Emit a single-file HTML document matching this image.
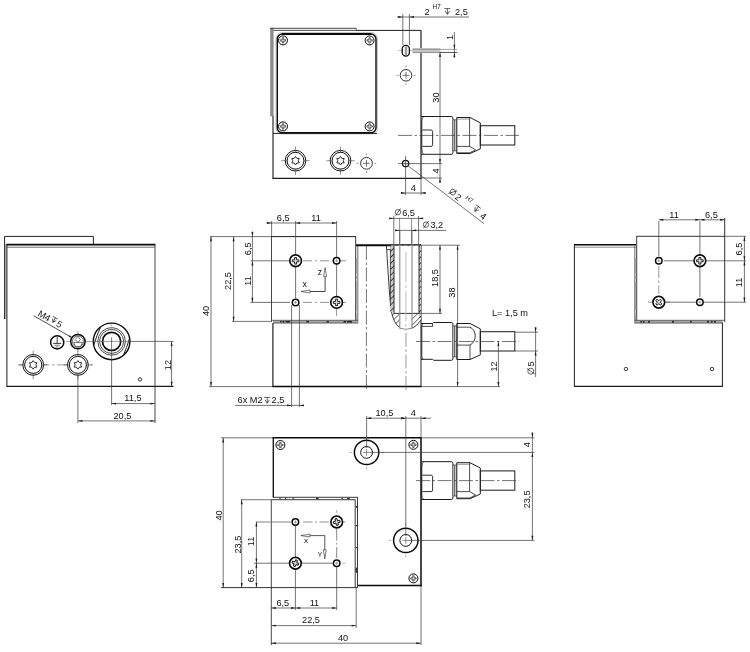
<!DOCTYPE html>
<html><head><meta charset="utf-8"><title>drawing</title>
<style>
html,body{margin:0;padding:0;background:#fff;}
body{width:750px;height:652px;overflow:hidden;}
svg{display:block;font-family:"Liberation Sans",sans-serif;filter:grayscale(1);}
</style></head><body>
<svg width="750" height="652" viewBox="0 0 750 652">
<defs>
<pattern id="hatch" width="4.2" height="4.2" patternUnits="userSpaceOnUse" patternTransform="rotate(-45)">
<rect width="4.2" height="4.2" fill="#fff"/><line x1="0" y1="0" x2="4.2" y2="0" stroke="#333" stroke-width="1.2"/>
</pattern>
<pattern id="hatch2" width="4.2" height="4.2" patternUnits="userSpaceOnUse" patternTransform="rotate(-45)">
<rect width="4.2" height="4.2" fill="#ccc"/><line x1="0" y1="0" x2="4.2" y2="0" stroke="#222" stroke-width="1.6"/>
</pattern>
</defs>
<rect width="750" height="652" fill="#fff"/>

<g id="top">
<rect x="270.2" y="27.9" width="3.4" height="88.4" fill="#8c8c8c"/>
<line x1="270.2" y1="28.3" x2="356.2" y2="28.3" stroke="#333" stroke-width="0.9"/>
<line x1="356.2" y1="28.3" x2="356.2" y2="30.2" stroke="#444" stroke-width="0.8"/>
<line x1="356" y1="30.4" x2="421" y2="30.4" stroke="#1c1c1c" stroke-width="1"/>
<line x1="273.4" y1="30.4" x2="356" y2="30.4" stroke="#3a3a3a" stroke-width="0.9"/>
<line x1="421" y1="30.3" x2="421" y2="178.3" stroke="#1c1c1c" stroke-width="1.2"/>
<line x1="273" y1="116" x2="273" y2="178.3" stroke="#4a4a4a" stroke-width="1.4"/>
<line x1="272.4" y1="178.3" x2="421.6" y2="178.3" stroke="#1c1c1c" stroke-width="1.2"/>
<rect x="276" y="32.6" width="101.4" height="101.4" rx="6" fill="none" stroke="#888" stroke-width="0.5"/>
<rect x="277.3" y="34" width="98.7" height="98.8" rx="5" fill="none" stroke="#0a0a0a" stroke-width="1.4"/>
<line x1="282" y1="34" x2="371.4" y2="34" stroke="#0a0a0a" stroke-width="2"/>
<line x1="273" y1="133.4" x2="377" y2="133.4" stroke="#1c1c1c" stroke-width="1"/>
<circle cx="283" cy="40.4" r="4.5" fill="#fff" stroke="#0a0a0a" stroke-width="1"/>
<path d="M282.3,37.7 L283.7,37.7 L283.7,39.7 L285.7,39.7 L285.7,41.1 L283.7,41.1 L283.7,43.1 L282.3,43.1 L282.3,41.1 L280.3,41.1 L280.3,39.7 L282.3,39.7 Z" fill="#ddd" stroke="#111" stroke-width="0.6" />
<circle cx="369.6" cy="40.4" r="4.5" fill="#fff" stroke="#0a0a0a" stroke-width="1"/>
<path d="M368.9,37.7 L370.3,37.7 L370.3,39.7 L372.3,39.7 L372.3,41.1 L370.3,41.1 L370.3,43.1 L368.9,43.1 L368.9,41.1 L366.9,41.1 L366.9,39.7 L368.9,39.7 Z" fill="#ddd" stroke="#111" stroke-width="0.6" />
<circle cx="283" cy="126.4" r="4.5" fill="#fff" stroke="#0a0a0a" stroke-width="1"/>
<path d="M282.3,123.7 L283.7,123.7 L283.7,125.7 L285.7,125.7 L285.7,127.1 L283.7,127.1 L283.7,129.1 L282.3,129.1 L282.3,127.1 L280.3,127.1 L280.3,125.7 L282.3,125.7 Z" fill="#ddd" stroke="#111" stroke-width="0.6" />
<circle cx="369.6" cy="126.4" r="4.5" fill="#fff" stroke="#0a0a0a" stroke-width="1"/>
<path d="M368.9,123.7 L370.3,123.7 L370.3,125.7 L372.3,125.7 L372.3,127.1 L370.3,127.1 L370.3,129.1 L368.9,129.1 L368.9,127.1 L366.9,127.1 L366.9,125.7 L368.9,125.7 Z" fill="#ddd" stroke="#111" stroke-width="0.6" />
<circle cx="295.5" cy="160.7" r="10.3" fill="#fff" stroke="#111" stroke-width="1"/>
<circle cx="295.5" cy="160.7" r="8.45" fill="none" stroke="#111" stroke-width="1"/>
<path d="M295.5,156.4 L296.85,158.36 L299.22,158.55 L298.2,160.7 L299.22,162.85 L296.85,163.04 L295.5,165 L294.15,163.04 L291.78,162.85 L292.8,160.7 L291.78,158.55 L294.15,158.36 Z" fill="none" stroke="#1a1a1a" stroke-width="0.9" stroke-linejoin="round"/>
<line x1="303.3" y1="160.7" x2="309.6" y2="160.7" stroke="#444" stroke-width="0.6"/>
<line x1="287.7" y1="160.7" x2="281.4" y2="160.7" stroke="#444" stroke-width="0.6"/>
<line x1="295.5" y1="168.5" x2="295.5" y2="174.8" stroke="#444" stroke-width="0.6"/>
<line x1="295.5" y1="152.9" x2="295.5" y2="146.6" stroke="#444" stroke-width="0.6"/>
<circle cx="340.5" cy="160.7" r="10.3" fill="#fff" stroke="#111" stroke-width="1"/>
<circle cx="340.5" cy="160.7" r="8.45" fill="none" stroke="#111" stroke-width="1"/>
<path d="M340.5,156.4 L341.85,158.36 L344.22,158.55 L343.2,160.7 L344.22,162.85 L341.85,163.04 L340.5,165 L339.15,163.04 L336.78,162.85 L337.8,160.7 L336.78,158.55 L339.15,158.36 Z" fill="none" stroke="#1a1a1a" stroke-width="0.9" stroke-linejoin="round"/>
<line x1="348.3" y1="160.7" x2="354.6" y2="160.7" stroke="#444" stroke-width="0.6"/>
<line x1="332.7" y1="160.7" x2="326.4" y2="160.7" stroke="#444" stroke-width="0.6"/>
<line x1="340.5" y1="168.5" x2="340.5" y2="174.8" stroke="#444" stroke-width="0.6"/>
<line x1="340.5" y1="152.9" x2="340.5" y2="146.6" stroke="#444" stroke-width="0.6"/>
<circle cx="366.5" cy="163.3" r="5.9" fill="#fff" stroke="#1c1c1c" stroke-width="0.9"/>
<line x1="363.1" y1="163.3" x2="369.9" y2="163.3" stroke="#3a3a3a" stroke-width="0.7"/>
<line x1="366.5" y1="159.9" x2="366.5" y2="166.7" stroke="#3a3a3a" stroke-width="0.7"/>
<line x1="374.2" y1="163.3" x2="376.4" y2="163.3" stroke="#666" stroke-width="0.6"/>
<line x1="358.8" y1="163.3" x2="356.6" y2="163.3" stroke="#666" stroke-width="0.6"/>
<line x1="366.5" y1="171" x2="366.5" y2="173.2" stroke="#666" stroke-width="0.6"/>
<line x1="366.5" y1="155.6" x2="366.5" y2="153.4" stroke="#666" stroke-width="0.6"/>
<rect x="412.6" y="48.1" width="27.8" height="5.0" fill="#c4c4c4"/><rect x="412.6" y="48.9" width="44.4" height="0.8" fill="#8a8a8a"/><rect x="412.6" y="52.0" width="44.4" height="0.8" fill="#8a8a8a"/>
<line x1="398" y1="50.6" x2="413" y2="50.6" stroke="#999" stroke-width="0.6"/>
<rect x="402.2" y="45.3" width="7.2" height="10.8" rx="3.6" fill="#fff" stroke="#0a0a0a" stroke-width="1.3"/>
<rect x="404.8" y="46.5" width="2.4" height="8.6" fill="#999"/>
<circle cx="406" cy="75.3" r="5.8" fill="#fff" stroke="#1c1c1c" stroke-width="0.9"/>
<line x1="402.6" y1="75.3" x2="409.4" y2="75.3" stroke="#3a3a3a" stroke-width="0.7"/>
<line x1="406" y1="71.9" x2="406" y2="78.7" stroke="#3a3a3a" stroke-width="0.7"/>
<line x1="413.6" y1="75.3" x2="415.8" y2="75.3" stroke="#666" stroke-width="0.6"/>
<line x1="398.4" y1="75.3" x2="396.2" y2="75.3" stroke="#666" stroke-width="0.6"/>
<line x1="406" y1="82.9" x2="406" y2="85.1" stroke="#666" stroke-width="0.6"/>
<line x1="406" y1="67.7" x2="406" y2="65.5" stroke="#666" stroke-width="0.6"/>
<circle cx="405.6" cy="163.6" r="3.2" fill="#fff" stroke="#0a0a0a" stroke-width="1.2"/>
<line x1="403.4" y1="163.2" x2="407.6" y2="164.2" stroke="#555" stroke-width="0.5"/>
<line x1="398" y1="163.6" x2="442" y2="163.6" stroke="#3a3a3a" stroke-width="0.7"/>
<line x1="405.6" y1="156" x2="405.6" y2="195" stroke="#3a3a3a" stroke-width="0.7"/>
<line x1="421" y1="178" x2="442" y2="178" stroke="#3a3a3a" stroke-width="0.7"/>
<line x1="421" y1="178" x2="421" y2="195" stroke="#3a3a3a" stroke-width="0.7"/>
<line x1="402.8" y1="14" x2="402.8" y2="45" stroke="#3a3a3a" stroke-width="0.7"/>
<line x1="409.4" y1="14" x2="409.4" y2="45" stroke="#3a3a3a" stroke-width="0.7"/>
<line x1="397" y1="17" x2="469" y2="17" stroke="#3a3a3a" stroke-width="0.7"/>
<polygon points="402.8,17 398.2,17.95 398.2,16.05" fill="#1c1c1c"/>
<polygon points="409.4,17 414,16.05 414,17.95" fill="#1c1c1c"/>
<text x="424.5" y="15" font-size="9.2" text-anchor="start" fill="#111" >2</text>
<text x="432.6" y="8.8" font-size="6.3" text-anchor="start" fill="#111" >H7</text>
<line x1="444.4" y1="8.6" x2="450.4" y2="8.6" stroke="#222" stroke-width="0.7"/>
<line x1="447.4" y1="8.6" x2="447.4" y2="14.3" stroke="#222" stroke-width="0.7"/>
<path d="M445.15,11 L447.4,14.45 L449.65,11" fill="none" stroke="#222" stroke-width="0.7" />
<text x="455" y="15" font-size="9.2" text-anchor="start" fill="#111" >2,5</text>
<line x1="454.4" y1="32" x2="454.4" y2="58" stroke="#3a3a3a" stroke-width="0.7"/>
<polygon points="454.4,49.3 453.45,44.7 455.35,44.7" fill="#1c1c1c"/>
<polygon points="454.4,52.4 455.35,57 453.45,57" fill="#1c1c1c"/>
<text x="452.8" y="37.4" font-size="9.2" text-anchor="middle" fill="#111" transform="rotate(-90 452.8 37.4)" >1</text>
<line x1="440" y1="52.4" x2="457.5" y2="52.4" stroke="#3a3a3a" stroke-width="0.7"/>
<line x1="440" y1="52.4" x2="440" y2="163.6" stroke="#3a3a3a" stroke-width="0.7"/>
<polygon points="440,52.4 440.95,57 439.05,57" fill="#1c1c1c"/>
<polygon points="440,163.6 439.05,159 440.95,159" fill="#1c1c1c"/>
<text x="439.2" y="97.6" font-size="9.2" text-anchor="middle" fill="#111" transform="rotate(-90 439.2 97.6)" >30</text>
<line x1="440" y1="163.6" x2="440" y2="183" stroke="#3a3a3a" stroke-width="0.7"/>
<polygon points="440,178 440.95,182.6 439.05,182.6" fill="#1c1c1c"/>
<text x="438.6" y="171" font-size="9.2" text-anchor="middle" fill="#111" transform="rotate(-90 438.6 171)" >4</text>
<line x1="401" y1="193" x2="426" y2="193" stroke="#3a3a3a" stroke-width="0.7"/>
<polygon points="405.6,193 401,193.95 401,192.05" fill="#1c1c1c"/>
<polygon points="421,193 425.6,192.05 425.6,193.95" fill="#1c1c1c"/>
<text x="413.4" y="191" font-size="9.2" text-anchor="middle" fill="#111" >4</text>
<line x1="407.8" y1="165.6" x2="484" y2="223.6" stroke="#3a3a3a" stroke-width="0.7"/>
<g transform="translate(447.2 192.8) rotate(37.4)">
<circle cx="4.1" cy="-4" r="2.8" fill="none" stroke="#111" stroke-width="0.65"/>
<line x1="1.44" y1="-0.22" x2="6.76" y2="-7.78" stroke="#111" stroke-width="0.65"/>
<text x="9" y="0" font-size="9.2" text-anchor="start" fill="#111" >2</text>
<text x="17.6" y="-6.2" font-size="6.3" text-anchor="start" fill="#111" >H7</text>
<line x1="30.2" y1="-8" x2="36.2" y2="-8" stroke="#222" stroke-width="0.7"/>
<line x1="33.2" y1="-8" x2="33.2" y2="-2.3" stroke="#222" stroke-width="0.7"/>
<path d="M30.95,-5.6 L33.2,-2.15 L35.45,-5.6" fill="none" stroke="#222" stroke-width="0.7" />
<text x="40.2" y="0" font-size="9.2" text-anchor="start" fill="#111" >4</text>
</g>
<path d="M421,116.5 L451.4,116.5 Q452.9,116.5 452.9,118.1 L452.9,152.7 Q452.9,154.3 451.4,154.3 L421,154.3" fill="none" stroke="#1c1c1c" stroke-width="1" />
<path d="M423.4,117.1 Q421.8,117.9 421.8,121 L421.8,149.8 Q421.8,152.9 423.4,153.7" fill="none" stroke="#1c1c1c" stroke-width="0.9" />
<rect x="453.2" y="119.9" width="3.6" height="31" fill="#c8c8c8"/>
<line x1="454.4" y1="119.8" x2="454.4" y2="150.8" stroke="#555" stroke-width="0.9"/>
<line x1="453.2" y1="119.8" x2="456.8" y2="119.8" stroke="#333" stroke-width="0.7"/>
<line x1="453.2" y1="150.8" x2="456.8" y2="150.8" stroke="#333" stroke-width="0.7"/>
<path d="M456.8,117.5 L470,117.5 L480.3,122.8 L480.3,148.9 L470,153.5 L456.8,153.5 Z" fill="none" stroke="#1c1c1c" stroke-width="1" />
<line x1="456.8" y1="119.1" x2="469.6" y2="119.1" stroke="#555" stroke-width="0.6"/>
<line x1="469.6" y1="117.5" x2="469.6" y2="146.4" stroke="#222" stroke-width="0.8"/>
<path d="M456.8,146.4 L469.8,146.4 L475.6,149.8 L469.8,152.8 L456.8,152.8" fill="none" stroke="#222" stroke-width="0.8" />
<rect x="480.3" y="125.7" width="34.5" height="19.3" rx="0" fill="none" stroke="#1c1c1c" stroke-width="1"/>
<path d="M422.4,130 L431,130 Q432.6,130 432.6,131.6 L432.6,144.8 Q432.6,146.4 431,146.4 L422.4,146.4" fill="none" stroke="#1c1c1c" stroke-width="0.9" />
<line x1="398" y1="135.4" x2="519" y2="135.4" stroke="#3a3a3a" stroke-width="0.7" stroke-dasharray="14 2.5 2.5 2.5"/>
</g>
<g id="front">
<line x1="210" y1="236.6" x2="271" y2="236.6" stroke="#3a3a3a" stroke-width="0.7"/>
<line x1="271" y1="236.6" x2="356" y2="236.6" stroke="#1c1c1c" stroke-width="1"/>
<line x1="271.5" y1="236.6" x2="271.5" y2="321.4" stroke="#333" stroke-width="0.9"/>
<line x1="355.7" y1="236.6" x2="355.7" y2="323" stroke="#222" stroke-width="0.9"/>
<line x1="357.8" y1="245" x2="357.8" y2="323" stroke="#444" stroke-width="0.8"/>
<line x1="356.8" y1="258" x2="356.8" y2="320" stroke="#999" stroke-width="1" stroke-dasharray="16 2 3 2 30 2"/>
<rect x="273" y="320.4" width="85" height="2.6" fill="#a8a8a8"/>
<line x1="272" y1="320.3" x2="358" y2="320.3" stroke="#333" stroke-width="0.7"/>
<line x1="273" y1="323.1" x2="358" y2="323.1" stroke="#333" stroke-width="0.7"/>
<line x1="280.2" y1="321.7" x2="281.6" y2="321.7" stroke="#222" stroke-width="1.4"/>
<line x1="282.6" y1="321.7" x2="284.4" y2="321.7" stroke="#222" stroke-width="1.4"/>
<line x1="285.6" y1="321.7" x2="290" y2="321.7" stroke="#222" stroke-width="1.4"/>
<line x1="306.4" y1="321.7" x2="309" y2="321.7" stroke="#222" stroke-width="1.4"/>
<line x1="326.6" y1="321.7" x2="329" y2="321.7" stroke="#222" stroke-width="1.4"/>
<line x1="343.5" y1="321.7" x2="346" y2="321.7" stroke="#222" stroke-width="1.4"/>
<line x1="347" y1="321.7" x2="352" y2="321.7" stroke="#222" stroke-width="1.4"/>
<line x1="272.9" y1="323" x2="272.9" y2="386.6" stroke="#2a2a2a" stroke-width="1.25"/>
<line x1="272.2" y1="386.6" x2="421.5" y2="386.6" stroke="#0a0a0a" stroke-width="1.5"/>
<line x1="421" y1="245" x2="421" y2="386.6" stroke="#1c1c1c" stroke-width="1"/>
<line x1="356" y1="245.2" x2="421" y2="245.2" stroke="#0a0a0a" stroke-width="1.9"/>
<line x1="366.4" y1="246" x2="366.4" y2="391" stroke="#3a3a3a" stroke-width="0.7" stroke-dasharray="14 2.5 2.5 2.5"/>
<line x1="406" y1="247" x2="406" y2="391" stroke="#555" stroke-width="0.6" stroke-dasharray="14 2.5 2.5 2.5"/>
<path d="M390,245.5 L421,245.5 L421,319.5 C418,325 413,329.2 406,329.2 C398,329.2 393,322 391.4,312 C390.6,300 390.2,280 390,245.5 Z" fill="url(#hatch)" stroke="none" stroke-width="0.01" />
<path d="M386.4,245.5 C388,270 389.4,296 391.2,310 C393,322 398,329.2 406,329.2 C413,329.2 418,325 421,319.5" fill="none" stroke="#222" stroke-width="0.9" />
<path d="M386.4,245.5 L390.6,245.5 L390.6,249.6 L386.8,249.6" fill="none" stroke="#222" stroke-width="0.8" />
<rect x="390.2" y="246" width="3.8" height="66" fill="url(#hatch2)"/>
<rect x="419" y="246" width="2" height="72" fill="url(#hatch2)"/>
<rect x="394" y="246" width="25" height="67.4" fill="#fff"/>
<rect x="399.6" y="313" width="12" height="17" fill="#fff"/>
<line x1="394" y1="245.5" x2="394" y2="313.4" stroke="#1c1c1c" stroke-width="0.9"/>
<line x1="419" y1="245.5" x2="419" y2="313.4" stroke="#1c1c1c" stroke-width="0.9"/>
<line x1="394" y1="313.4" x2="419" y2="313.4" stroke="#1c1c1c" stroke-width="0.9"/>
<line x1="399.8" y1="230" x2="399.8" y2="328.4" stroke="#888" stroke-width="1.1"/>
<line x1="412" y1="230" x2="412" y2="328.4" stroke="#888" stroke-width="1.1"/>
<line x1="399.6" y1="218" x2="399.6" y2="245" stroke="#444" stroke-width="0.6"/>
<line x1="411.6" y1="218" x2="411.6" y2="245" stroke="#444" stroke-width="0.6"/>
<line x1="390.4" y1="249" x2="390.4" y2="306" stroke="#333" stroke-width="0.8"/>
<path d="M399.6,328.2 Q406,330.4 411.6,328.2" fill="none" stroke="#444" stroke-width="0.6" />
<line x1="405.9" y1="252" x2="405.9" y2="329" stroke="#bdbdbd" stroke-width="1" stroke-dasharray="30 3 3 3"/>
<line x1="393.8" y1="216" x2="393.8" y2="245" stroke="#3a3a3a" stroke-width="0.7"/>
<line x1="418.6" y1="216" x2="418.6" y2="245" stroke="#3a3a3a" stroke-width="0.7"/>
<line x1="389" y1="218.4" x2="423" y2="218.4" stroke="#3a3a3a" stroke-width="0.7"/>
<polygon points="393.8,218.4 389.2,219.35 389.2,217.45" fill="#1c1c1c"/>
<polygon points="418.6,218.4 423.2,217.45 423.2,219.35" fill="#1c1c1c"/>
<circle cx="398" cy="212.2" r="2.7" fill="none" stroke="#111" stroke-width="0.65"/>
<line x1="395.44" y1="215.84" x2="400.56" y2="208.55" stroke="#111" stroke-width="0.65"/>
<text x="402.2" y="215.8" font-size="9.2" text-anchor="start" fill="#111" >6,5</text>
<line x1="395" y1="230.4" x2="446" y2="230.4" stroke="#3a3a3a" stroke-width="0.7"/>
<polygon points="399.6,230.4 395,231.35 395,229.45" fill="#1c1c1c"/>
<polygon points="411.6,230.4 416.2,229.45 416.2,231.35" fill="#1c1c1c"/>
<circle cx="426" cy="224.6" r="2.7" fill="none" stroke="#111" stroke-width="0.65"/>
<line x1="423.44" y1="228.25" x2="428.56" y2="220.95" stroke="#111" stroke-width="0.65"/>
<text x="430.4" y="228.2" font-size="9.2" text-anchor="start" fill="#111" >3,2</text>
<line x1="421" y1="245.2" x2="460" y2="245.2" stroke="#3a3a3a" stroke-width="0.7"/>
<line x1="419" y1="313.4" x2="442" y2="313.4" stroke="#3a3a3a" stroke-width="0.7"/>
<line x1="440" y1="245.2" x2="440" y2="313.4" stroke="#3a3a3a" stroke-width="0.7"/>
<polygon points="440,245.2 440.95,249.8 439.05,249.8" fill="#1c1c1c"/>
<polygon points="440,313.4 439.05,308.8 440.95,308.8" fill="#1c1c1c"/>
<text x="437.8" y="278" font-size="9.2" text-anchor="middle" fill="#111" transform="rotate(-90 437.8 278)" >18,5</text>
<line x1="457.6" y1="245.2" x2="457.6" y2="386.6" stroke="#3a3a3a" stroke-width="0.7"/>
<polygon points="457.6,245.2 458.55,249.8 456.65,249.8" fill="#1c1c1c"/>
<polygon points="457.6,386.6 456.65,382 458.55,382" fill="#1c1c1c"/>
<text x="455.4" y="292.6" font-size="9.2" text-anchor="middle" fill="#111" transform="rotate(-90 455.4 292.6)" >38</text>
<line x1="421" y1="386.6" x2="500" y2="386.6" stroke="#3a3a3a" stroke-width="0.7"/>
<line x1="211" y1="236.6" x2="211" y2="386.6" stroke="#3a3a3a" stroke-width="0.7"/>
<polygon points="211,236.6 211.95,241.2 210.05,241.2" fill="#1c1c1c"/>
<polygon points="211,386.6 210.05,382 211.95,382" fill="#1c1c1c"/>
<text x="209.4" y="311" font-size="9.2" text-anchor="middle" fill="#111" transform="rotate(-90 209.4 311)" >40</text>
<line x1="209" y1="386.6" x2="272" y2="386.6" stroke="#3a3a3a" stroke-width="0.7"/>
<line x1="233.6" y1="236.6" x2="233.6" y2="321.4" stroke="#3a3a3a" stroke-width="0.7"/>
<polygon points="233.6,236.6 234.55,241.2 232.65,241.2" fill="#1c1c1c"/>
<polygon points="233.6,321.4 232.65,316.8 234.55,316.8" fill="#1c1c1c"/>
<text x="231.4" y="281" font-size="9.2" text-anchor="middle" fill="#111" transform="rotate(-90 231.4 281)" >22,5</text>
<line x1="232" y1="321.4" x2="272" y2="321.4" stroke="#3a3a3a" stroke-width="0.7"/>
<line x1="252.4" y1="231.4" x2="252.4" y2="302.4" stroke="#3a3a3a" stroke-width="0.7"/>
<polygon points="252.4,236.6 251.45,232 253.35,232" fill="#1c1c1c"/>
<text x="250.6" y="248.8" font-size="9.2" text-anchor="middle" fill="#111" transform="rotate(-90 250.6 248.8)" >6,5</text>
<polygon points="252.4,260.8 253.35,265.4 251.45,265.4" fill="#1c1c1c"/>
<polygon points="252.4,302.4 251.45,297.8 253.35,297.8" fill="#1c1c1c"/>
<text x="250.6" y="281" font-size="9.2" text-anchor="middle" fill="#111" transform="rotate(-90 250.6 281)" >11</text>
<line x1="250.5" y1="260.8" x2="290" y2="260.8" stroke="#3a3a3a" stroke-width="0.7"/>
<line x1="250.5" y1="302.4" x2="290" y2="302.4" stroke="#3a3a3a" stroke-width="0.7"/>
<line x1="271.6" y1="221" x2="271.6" y2="236.6" stroke="#3a3a3a" stroke-width="0.7"/>
<line x1="295.6" y1="221" x2="295.6" y2="298" stroke="#3a3a3a" stroke-width="0.7"/>
<line x1="336.6" y1="221" x2="336.6" y2="297" stroke="#3a3a3a" stroke-width="0.7"/>
<line x1="266.4" y1="223" x2="336.6" y2="223" stroke="#3a3a3a" stroke-width="0.7"/>
<polygon points="271.6,223 267,223.95 267,222.05" fill="#1c1c1c"/>
<text x="283.2" y="221" font-size="9.2" text-anchor="middle" fill="#111" >6,5</text>
<polygon points="295.6,223 300.2,222.05 300.2,223.95" fill="#1c1c1c"/>
<polygon points="336.6,223 332,223.95 332,222.05" fill="#1c1c1c"/>
<text x="316" y="221" font-size="9.2" text-anchor="middle" fill="#111" >11</text>
<line x1="303" y1="260.8" x2="346" y2="260.8" stroke="#666" stroke-width="0.7" stroke-dasharray="9 3 2 3"/>
<line x1="303" y1="302.4" x2="348" y2="302.4" stroke="#666" stroke-width="0.7" stroke-dasharray="9 3 2 3"/>
<line x1="336.6" y1="306" x2="336.6" y2="316" stroke="#555" stroke-width="0.6"/>
<circle cx="295.6" cy="260.8" r="5.85" fill="#fff" stroke="#0a0a0a" stroke-width="1.65"/>
<path d="M294.6,257.5 L296.6,257.5 L296.6,259.8 L298.9,259.8 L298.9,261.8 L296.6,261.8 L296.6,264.1 L294.6,264.1 L294.6,261.8 L292.3,261.8 L292.3,259.8 L294.6,259.8 Z" fill="#ddd" stroke="#111" stroke-width="0.9" transform="rotate(0 295.6 260.8)"/>
<circle cx="336.6" cy="260.8" r="3.25" fill="#fff" stroke="#0a0a0a" stroke-width="1.5"/>
<line x1="335" y1="260.8" x2="338.2" y2="260.8" stroke="#555" stroke-width="0.5"/>
<line x1="336.6" y1="259.2" x2="336.6" y2="262.4" stroke="#555" stroke-width="0.5"/>
<circle cx="295.6" cy="302.4" r="3.25" fill="#fff" stroke="#0a0a0a" stroke-width="1.5"/>
<line x1="294" y1="302.4" x2="297.2" y2="302.4" stroke="#555" stroke-width="0.5"/>
<line x1="295.6" y1="300.8" x2="295.6" y2="304" stroke="#555" stroke-width="0.5"/>
<circle cx="336.6" cy="302.4" r="5.85" fill="#fff" stroke="#0a0a0a" stroke-width="1.65"/>
<path d="M335.6,299.1 L337.6,299.1 L337.6,301.4 L339.9,301.4 L339.9,303.4 L337.6,303.4 L337.6,305.7 L335.6,305.7 L335.6,303.4 L333.3,303.4 L333.3,301.4 L335.6,301.4 Z" fill="#ddd" stroke="#111" stroke-width="0.9" transform="rotate(0 336.6 302.4)"/>
<line x1="291.6" y1="305" x2="291.6" y2="407" stroke="#3a3a3a" stroke-width="0.7"/>
<line x1="299.4" y1="305" x2="299.4" y2="407" stroke="#3a3a3a" stroke-width="0.7"/>
<line x1="235" y1="405.4" x2="304" y2="405.4" stroke="#3a3a3a" stroke-width="0.7"/>
<polygon points="291.6,405.4 287,406.35 287,404.45" fill="#1c1c1c"/>
<polygon points="299.4,405.4 304,404.45 304,406.35" fill="#1c1c1c"/>
<text x="237.6" y="403.4" font-size="9.2" text-anchor="start" fill="#111" >6x M2</text>
<line x1="264.2" y1="397.4" x2="270.2" y2="397.4" stroke="#222" stroke-width="0.7"/>
<line x1="267.2" y1="397.4" x2="267.2" y2="403.1" stroke="#222" stroke-width="0.7"/>
<path d="M264.95,399.8 L267.2,403.25 L269.45,399.8" fill="none" stroke="#222" stroke-width="0.7" />
<text x="271.6" y="403.4" font-size="9.2" text-anchor="start" fill="#111" >2,5</text>
<path d="M325.1,276 L325.1,291.5 L310,291.5" fill="none" stroke="#333" stroke-width="0.9" />
<path d="M325.1,267.6 L326.6,276.4 L323.6,276.4 Z" fill="#fff" stroke="#222" stroke-width="0.6" />
<path d="M301,291.5 L310,290 L310,293 Z" fill="#fff" stroke="#222" stroke-width="0.6" />
<text x="320" y="274.6" font-size="8.8" text-anchor="middle" fill="#111" >z</text>
<text x="304.7" y="287" font-size="8.8" text-anchor="middle" fill="#111" >x</text>
<path d="M421,323.5 L432.6,323.5 L433.6,322.5 L451.4,322.5 Q452.9,322.5 452.9,324.1 L452.9,358.7 Q452.9,360.3 451.4,360.3 L433.6,360.3 L432.6,359.3 L421,359.3" fill="none" stroke="#1c1c1c" stroke-width="1" />
<path d="M421.6,326.4 L432.6,326.4 L432.6,323.5" fill="none" stroke="#1c1c1c" stroke-width="0.8" />
<path d="M423.4,323.1 Q421.8,323.9 421.8,327 L421.8,355.8 Q421.8,358.9 423.4,359.7" fill="none" stroke="#1c1c1c" stroke-width="0.9" />
<rect x="453.2" y="325.9" width="3.6" height="31" fill="#c8c8c8"/>
<line x1="454.4" y1="325.8" x2="454.4" y2="356.8" stroke="#555" stroke-width="0.9"/>
<line x1="453.2" y1="325.8" x2="456.8" y2="325.8" stroke="#333" stroke-width="0.7"/>
<line x1="453.2" y1="356.8" x2="456.8" y2="356.8" stroke="#333" stroke-width="0.7"/>
<path d="M456.8,323.5 L470,323.5 L480.3,328.8 L480.3,354.9 L470,359.5 L456.8,359.5 Z" fill="none" stroke="#1c1c1c" stroke-width="1" />
<line x1="456.8" y1="327.2" x2="470" y2="327.2" stroke="#222" stroke-width="0.8"/>
<path d="M470,327.2 C477,330.4 477,341.4 470,345.1" fill="none" stroke="#222" stroke-width="0.9" />
<line x1="456.8" y1="345.1" x2="470" y2="345.1" stroke="#222" stroke-width="0.8"/>
<line x1="470" y1="345.1" x2="470" y2="359.5" stroke="#222" stroke-width="0.8"/>
<rect x="480.3" y="331.7" width="34.5" height="19.3" rx="0" fill="none" stroke="#1c1c1c" stroke-width="1"/>
<line x1="416" y1="341.5" x2="519" y2="341.5" stroke="#3a3a3a" stroke-width="0.7" stroke-dasharray="14 2.5 2.5 2.5"/>
<text x="492" y="316.4" font-size="9.2" text-anchor="start" fill="#111" >L= 1,5 m</text>
<line x1="498.4" y1="341.5" x2="498.4" y2="386.6" stroke="#3a3a3a" stroke-width="0.7"/>
<polygon points="498.4,341.5 499.35,346.1 497.45,346.1" fill="#1c1c1c"/>
<polygon points="498.4,386.6 497.45,382 499.35,382" fill="#1c1c1c"/>
<text x="497.4" y="366.4" font-size="9.2" text-anchor="middle" fill="#111" transform="rotate(-90 497.4 366.4)" >12</text>
<line x1="515" y1="332.2" x2="538" y2="332.2" stroke="#3a3a3a" stroke-width="0.7"/>
<line x1="515" y1="351" x2="538" y2="351" stroke="#3a3a3a" stroke-width="0.7"/>
<line x1="535.6" y1="327" x2="535.6" y2="377" stroke="#3a3a3a" stroke-width="0.7"/>
<polygon points="535.6,332.2 534.65,327.6 536.55,327.6" fill="#1c1c1c"/>
<polygon points="535.6,351 536.55,355.6 534.65,355.6" fill="#1c1c1c"/>
<g transform="translate(534.4 374.6) rotate(-90)">
<circle cx="3.4" cy="-3.6" r="3" fill="none" stroke="#111" stroke-width="0.65"/>
<line x1="0.55" y1="0.45" x2="6.25" y2="-7.65" stroke="#111" stroke-width="0.65"/>
<text x="8" y="0" font-size="9.2" text-anchor="start" fill="#111" >5</text>
</g>
</g>
<g id="left">
<rect x="4.6" y="244" width="2" height="75" fill="#bbb"/>
<path d="M4.6,319 L4.6,236.4 L93.4,236.4 L93.4,244" fill="none" stroke="#222" stroke-width="1" />
<line x1="6.4" y1="244.6" x2="155.4" y2="244.6" stroke="#0a0a0a" stroke-width="1.6"/>
<line x1="7" y1="247.2" x2="155" y2="247.2" stroke="#333" stroke-width="0.7"/>
<line x1="6.9" y1="244.6" x2="6.9" y2="386.4" stroke="#1c1c1c" stroke-width="1"/>
<line x1="155" y1="244.6" x2="155" y2="423" stroke="#333" stroke-width="0.9"/>
<line x1="6.4" y1="386.4" x2="173.5" y2="386.4" stroke="#1c1c1c" stroke-width="1.1"/>
<line x1="18" y1="364.9" x2="93" y2="364.9" stroke="#555" stroke-width="0.6" stroke-dasharray="12 2.5 2.5 2.5"/>
<circle cx="33.2" cy="364.9" r="10.4" fill="#fff" stroke="#111" stroke-width="1"/>
<circle cx="33.2" cy="364.9" r="8.55" fill="none" stroke="#111" stroke-width="1"/>
<path d="M33.2,360.6 L34.55,362.56 L36.92,362.75 L35.9,364.9 L36.92,367.05 L34.55,367.24 L33.2,369.2 L31.85,367.24 L29.48,367.05 L30.5,364.9 L29.48,362.75 L31.85,362.56 Z" fill="none" stroke="#1a1a1a" stroke-width="0.9" stroke-linejoin="round"/>
<line x1="41.1" y1="364.9" x2="47.4" y2="364.9" stroke="#444" stroke-width="0.6"/>
<line x1="25.3" y1="364.9" x2="19" y2="364.9" stroke="#444" stroke-width="0.6"/>
<line x1="33.2" y1="372.8" x2="33.2" y2="379.1" stroke="#444" stroke-width="0.6"/>
<line x1="33.2" y1="357" x2="33.2" y2="350.7" stroke="#444" stroke-width="0.6"/>
<circle cx="77.9" cy="364.9" r="10.4" fill="#fff" stroke="#111" stroke-width="1"/>
<circle cx="77.9" cy="364.9" r="8.55" fill="none" stroke="#111" stroke-width="1"/>
<path d="M77.9,360.6 L79.25,362.56 L81.62,362.75 L80.6,364.9 L81.62,367.05 L79.25,367.24 L77.9,369.2 L76.55,367.24 L74.18,367.05 L75.2,364.9 L74.18,362.75 L76.55,362.56 Z" fill="none" stroke="#1a1a1a" stroke-width="0.9" stroke-linejoin="round"/>
<line x1="85.8" y1="364.9" x2="92.1" y2="364.9" stroke="#444" stroke-width="0.6"/>
<line x1="70" y1="364.9" x2="63.7" y2="364.9" stroke="#444" stroke-width="0.6"/>
<line x1="77.9" y1="372.8" x2="77.9" y2="379.1" stroke="#444" stroke-width="0.6"/>
<line x1="77.9" y1="357" x2="77.9" y2="350.7" stroke="#444" stroke-width="0.6"/>
<circle cx="57.2" cy="342.4" r="6.6" fill="#fff" stroke="#0a0a0a" stroke-width="1.5"/>
<line x1="57.2" y1="337.2" x2="57.2" y2="343.4" stroke="#3a3a3a" stroke-width="1"/>
<line x1="53.2" y1="343.4" x2="61.2" y2="343.4" stroke="#3a3a3a" stroke-width="1"/>
<line x1="54.6" y1="345.2" x2="59.8" y2="345.2" stroke="#3a3a3a" stroke-width="0.7"/>
<line x1="55.8" y1="347" x2="58.6" y2="347" stroke="#3a3a3a" stroke-width="0.7"/>
<line x1="66" y1="341.6" x2="92" y2="341.6" stroke="#666" stroke-width="0.6"/>
<line x1="77.9" y1="331" x2="77.9" y2="352" stroke="#666" stroke-width="0.6"/>
<circle cx="77.9" cy="341.6" r="7.2" fill="#fff" stroke="#0a0a0a" stroke-width="1.5"/>
<circle cx="77.9" cy="341.6" r="5.6" fill="none" stroke="#333" stroke-width="0.7"/>
<path d="M73.6,342.4 L82.6,342.4 L80.4,346.6 L75.6,346.6 Z M77.9,336.4 L80.4,339.6 L77.9,342.4 L75.2,339.6 Z" fill="#fff" stroke="#333" stroke-width="0.7" />
<line x1="111.5" y1="341.4" x2="173.5" y2="341.4" stroke="#3a3a3a" stroke-width="0.7"/>
<circle cx="111.6" cy="341.4" r="18.3" fill="#fff" stroke="#0a0a0a" stroke-width="1.4"/>
<path d="M100.6,327.4 Q96.6,335.2 93.8,345.2 M129.5,338.4 Q126.8,348 123.2,355.6" fill="none" stroke="#222" stroke-width="1" />
<circle cx="111.6" cy="341.4" r="13.8" fill="none" stroke="#222" stroke-width="0.8"/>
<circle cx="111.6" cy="341.4" r="12" fill="none" stroke="#222" stroke-width="0.8"/>
<circle cx="111.6" cy="341.4" r="9.1" fill="none" stroke="#0a0a0a" stroke-width="1.7"/>
<line x1="111.6" y1="337.4" x2="111.6" y2="405" stroke="#3a3a3a" stroke-width="0.7"/>
<line x1="111.6" y1="324.4" x2="111.6" y2="326" stroke="#666" stroke-width="0.6"/>
<line x1="111.6" y1="328.4" x2="111.6" y2="330.4" stroke="#666" stroke-width="0.6"/>
<line x1="92" y1="341.4" x2="131" y2="341.4" stroke="#555" stroke-width="0.6"/>
<circle cx="140" cy="379.4" r="1.7" fill="none" stroke="#111" stroke-width="0.8"/>
<line x1="33.6" y1="315.7" x2="72" y2="337.6" stroke="#222" stroke-width="0.8"/>
<polygon points="72.6,338 68.68,336.8 69.57,335.24" fill="#1c1c1c"/>
<g transform="translate(35.55 315.16) rotate(29.7)">
<text x="1.5" y="-0.6" font-size="9.2" text-anchor="start" fill="#111" >M4</text>
<line x1="15.9" y1="-7.6" x2="21.3" y2="-7.6" stroke="#222" stroke-width="0.7"/>
<line x1="18.6" y1="-7.6" x2="18.6" y2="-2.47" stroke="#222" stroke-width="0.7"/>
<path d="M16.58,-5.44 L18.6,-2.33 L20.62,-5.44" fill="none" stroke="#222" stroke-width="0.7" />
<text x="22.6" y="-0.6" font-size="9.2" text-anchor="start" fill="#111" >5</text>
</g>
<line x1="77.9" y1="376" x2="77.9" y2="423" stroke="#3a3a3a" stroke-width="0.7"/>
<line x1="111.5" y1="403.6" x2="155" y2="403.6" stroke="#3a3a3a" stroke-width="0.7"/>
<polygon points="111.5,403.6 116.1,402.65 116.1,404.55" fill="#1c1c1c"/>
<polygon points="155,403.6 150.4,404.55 150.4,402.65" fill="#1c1c1c"/>
<text x="132.9" y="401.4" font-size="9.2" text-anchor="middle" fill="#111" >11,5</text>
<line x1="77.9" y1="420.9" x2="155" y2="420.9" stroke="#3a3a3a" stroke-width="0.7"/>
<polygon points="77.9,420.9 82.5,419.95 82.5,421.85" fill="#1c1c1c"/>
<polygon points="155,420.9 150.4,421.85 150.4,419.95" fill="#1c1c1c"/>
<text x="122.4" y="418.8" font-size="9.2" text-anchor="middle" fill="#111" >20,5</text>
<line x1="171.6" y1="341.4" x2="171.6" y2="386.4" stroke="#3a3a3a" stroke-width="0.7"/>
<polygon points="171.6,341.4 172.55,346 170.65,346" fill="#1c1c1c"/>
<polygon points="171.6,386.4 170.65,381.8 172.55,381.8" fill="#1c1c1c"/>
<text x="170.6" y="365" font-size="9.2" text-anchor="middle" fill="#111" transform="rotate(-90 170.6 365)" >12</text>
</g>
<g id="right">
<line x1="574" y1="244.8" x2="636" y2="244.8" stroke="#0a0a0a" stroke-width="1.6"/>
<line x1="574.6" y1="247.2" x2="636" y2="247.2" stroke="#444" stroke-width="0.6"/>
<line x1="574.4" y1="244.8" x2="574.4" y2="386.4" stroke="#1c1c1c" stroke-width="1"/>
<line x1="574" y1="386.4" x2="722.9" y2="386.4" stroke="#1c1c1c" stroke-width="1.1"/>
<line x1="722.4" y1="322" x2="722.4" y2="386.4" stroke="#1c1c1c" stroke-width="1"/>
<line x1="636.5" y1="236.3" x2="724.7" y2="236.3" stroke="#1c1c1c" stroke-width="0.9"/>
<line x1="724.7" y1="218" x2="724.7" y2="322" stroke="#1c1c1c" stroke-width="0.9"/>
<line x1="636.7" y1="236.3" x2="636.7" y2="323" stroke="#222" stroke-width="0.9"/>
<line x1="634.8" y1="246" x2="634.8" y2="323" stroke="#444" stroke-width="0.8"/>
<line x1="635.7" y1="258" x2="635.7" y2="320" stroke="#999" stroke-width="1" stroke-dasharray="16 2 3 2 30 2"/>
<rect x="634.6" y="320.4" width="88" height="2.6" fill="#a8a8a8"/>
<line x1="634.4" y1="320.3" x2="724.7" y2="320.3" stroke="#333" stroke-width="0.7"/>
<line x1="634.4" y1="323.1" x2="722.6" y2="323.1" stroke="#333" stroke-width="0.7"/>
<line x1="640.4" y1="321.7" x2="642" y2="321.7" stroke="#222" stroke-width="1.4"/>
<line x1="643" y1="321.7" x2="644.6" y2="321.7" stroke="#222" stroke-width="1.4"/>
<line x1="648" y1="321.7" x2="650" y2="321.7" stroke="#222" stroke-width="1.4"/>
<line x1="672" y1="321.7" x2="674" y2="321.7" stroke="#222" stroke-width="1.4"/>
<line x1="690" y1="321.7" x2="691.6" y2="321.7" stroke="#222" stroke-width="1.4"/>
<line x1="707" y1="321.7" x2="709" y2="321.7" stroke="#222" stroke-width="1.4"/>
<line x1="711" y1="321.7" x2="712.6" y2="321.7" stroke="#222" stroke-width="1.4"/>
<line x1="714" y1="321.7" x2="716" y2="321.7" stroke="#222" stroke-width="1.4"/>
<line x1="658.8" y1="221" x2="658.8" y2="256" stroke="#3a3a3a" stroke-width="0.7"/>
<line x1="699.9" y1="221" x2="699.9" y2="297" stroke="#3a3a3a" stroke-width="0.7"/>
<line x1="664" y1="260.8" x2="746" y2="260.8" stroke="#3a3a3a" stroke-width="0.7"/>
<line x1="652" y1="302.2" x2="746" y2="302.2" stroke="#3a3a3a" stroke-width="0.7"/>
<line x1="724.7" y1="236.3" x2="746" y2="236.3" stroke="#3a3a3a" stroke-width="0.7"/>
<line x1="658.8" y1="266" x2="658.8" y2="294" stroke="#555" stroke-width="0.6" stroke-dasharray="12 2.5 2.5 2.5"/>
<line x1="648" y1="302.2" x2="670" y2="302.2" stroke="#555" stroke-width="0.6"/>
<circle cx="658.8" cy="260.8" r="3.25" fill="#fff" stroke="#0a0a0a" stroke-width="1.5"/>
<line x1="657.2" y1="260.8" x2="660.4" y2="260.8" stroke="#555" stroke-width="0.5"/>
<line x1="658.8" y1="259.2" x2="658.8" y2="262.4" stroke="#555" stroke-width="0.5"/>
<circle cx="699.9" cy="260.8" r="5.85" fill="#fff" stroke="#0a0a0a" stroke-width="1.65"/>
<path d="M698.9,257.5 L700.9,257.5 L700.9,259.8 L703.2,259.8 L703.2,261.8 L700.9,261.8 L700.9,264.1 L698.9,264.1 L698.9,261.8 L696.6,261.8 L696.6,259.8 L698.9,259.8 Z" fill="#ddd" stroke="#111" stroke-width="0.9" transform="rotate(0 699.9 260.8)"/>
<circle cx="658.8" cy="302.2" r="5.85" fill="#fff" stroke="#0a0a0a" stroke-width="1.65"/>
<path d="M657.8,298.9 L659.8,298.9 L659.8,301.2 L662.1,301.2 L662.1,303.2 L659.8,303.2 L659.8,305.5 L657.8,305.5 L657.8,303.2 L655.5,303.2 L655.5,301.2 L657.8,301.2 Z" fill="#ddd" stroke="#111" stroke-width="0.9" transform="rotate(45 658.8 302.2)"/>
<circle cx="699.9" cy="302.2" r="3.25" fill="#fff" stroke="#0a0a0a" stroke-width="1.5"/>
<line x1="698.3" y1="302.2" x2="701.5" y2="302.2" stroke="#555" stroke-width="0.5"/>
<line x1="699.9" y1="300.6" x2="699.9" y2="303.8" stroke="#555" stroke-width="0.5"/>
<circle cx="625.9" cy="369" r="1.7" fill="none" stroke="#111" stroke-width="0.8"/>
<circle cx="712" cy="369" r="1.7" fill="none" stroke="#111" stroke-width="0.8"/>
<line x1="658.8" y1="219.8" x2="699.9" y2="219.8" stroke="#3a3a3a" stroke-width="0.7"/>
<polygon points="658.8,219.8 663.4,218.85 663.4,220.75" fill="#1c1c1c"/>
<polygon points="699.9,219.8 695.3,220.75 695.3,218.85" fill="#1c1c1c"/>
<text x="674" y="217.6" font-size="9.2" text-anchor="middle" fill="#111" >11</text>
<line x1="699.9" y1="219.8" x2="724.7" y2="219.8" stroke="#3a3a3a" stroke-width="0.7"/>
<polygon points="699.9,219.8 704.5,218.85 704.5,220.75" fill="#1c1c1c"/>
<polygon points="724.7,219.8 720.1,220.75 720.1,218.85" fill="#1c1c1c"/>
<text x="711.4" y="217.6" font-size="9.2" text-anchor="middle" fill="#111" >6,5</text>
<line x1="744.4" y1="236.3" x2="744.4" y2="302.2" stroke="#3a3a3a" stroke-width="0.7"/>
<polygon points="744.4,236.3 745.35,240.9 743.45,240.9" fill="#1c1c1c"/>
<polygon points="744.4,260.8 743.45,256.2 745.35,256.2" fill="#1c1c1c"/>
<polygon points="744.4,260.8 745.35,265.4 743.45,265.4" fill="#1c1c1c"/>
<polygon points="744.4,302.2 743.45,297.6 745.35,297.6" fill="#1c1c1c"/>
<text x="742.4" y="249" font-size="9.2" text-anchor="middle" fill="#111" transform="rotate(-90 742.4 249)" >6,5</text>
<text x="742.4" y="282.4" font-size="9.2" text-anchor="middle" fill="#111" transform="rotate(-90 742.4 282.4)" >11</text>
</g>
<g id="bottom">
<line x1="221" y1="437.8" x2="273" y2="437.8" stroke="#3a3a3a" stroke-width="0.7"/>
<line x1="272.6" y1="437.8" x2="421.7" y2="437.8" stroke="#0a0a0a" stroke-width="1.6"/>
<line x1="273.3" y1="437.8" x2="273.3" y2="497.4" stroke="#1c1c1c" stroke-width="1.4"/>
<line x1="421" y1="437.8" x2="421" y2="586.2" stroke="#0a0a0a" stroke-width="1.5"/>
<line x1="357.5" y1="585.6" x2="421.7" y2="585.6" stroke="#0a0a0a" stroke-width="1.5"/>
<line x1="241" y1="499.7" x2="271.3" y2="499.7" stroke="#3a3a3a" stroke-width="0.7"/>
<line x1="273" y1="497.3" x2="357.8" y2="497.3" stroke="#222" stroke-width="0.9"/>
<line x1="271.3" y1="499.7" x2="355.3" y2="499.7" stroke="#222" stroke-width="0.9"/>
<line x1="279.4" y1="498.5" x2="280.6" y2="498.5" stroke="#333" stroke-width="1.6"/>
<line x1="285" y1="498.5" x2="286.2" y2="498.5" stroke="#333" stroke-width="1.6"/>
<line x1="292.6" y1="498.5" x2="293.8" y2="498.5" stroke="#333" stroke-width="1.6"/>
<line x1="316" y1="498.5" x2="318.6" y2="498.5" stroke="#333" stroke-width="1.6"/>
<line x1="341.6" y1="498.5" x2="342.8" y2="498.5" stroke="#333" stroke-width="1.6"/>
<line x1="347.2" y1="498.5" x2="349.8" y2="498.5" stroke="#333" stroke-width="1.6"/>
<line x1="271.3" y1="499.7" x2="271.3" y2="645" stroke="#333" stroke-width="0.9"/>
<line x1="357.5" y1="497.3" x2="357.5" y2="587.6" stroke="#222" stroke-width="0.9"/>
<line x1="355.2" y1="499.7" x2="355.2" y2="587.6" stroke="#222" stroke-width="0.9"/>
<line x1="356.35" y1="506" x2="356.35" y2="507.8" stroke="#333" stroke-width="1.6"/>
<line x1="356.35" y1="525" x2="356.35" y2="526.2" stroke="#333" stroke-width="1.6"/>
<line x1="356.35" y1="547" x2="356.35" y2="548.2" stroke="#333" stroke-width="1.6"/>
<line x1="356.35" y1="567.6" x2="356.35" y2="572.8" stroke="#333" stroke-width="1.6"/>
<line x1="221" y1="587.6" x2="357.5" y2="587.6" stroke="#1c1c1c" stroke-width="0.9"/>
<line x1="256" y1="522" x2="291" y2="522" stroke="#777" stroke-width="0.9"/>
<line x1="254" y1="563.2" x2="333" y2="563.2" stroke="#3a3a3a" stroke-width="0.7"/>
<line x1="303" y1="522" x2="348" y2="522" stroke="#777" stroke-width="0.8" stroke-dasharray="9.5 2.5 2 2.5"/>
<line x1="336.7" y1="510" x2="336.7" y2="513" stroke="#777" stroke-width="0.6"/>
<line x1="336.7" y1="529" x2="336.7" y2="558" stroke="#555" stroke-width="0.7" stroke-dasharray="11.5 2.5 1.5 2.5"/>
<line x1="295.4" y1="526" x2="295.4" y2="610" stroke="#3a3a3a" stroke-width="0.7"/>
<line x1="336.7" y1="567" x2="336.7" y2="610" stroke="#3a3a3a" stroke-width="0.7"/>
<line x1="342" y1="563.2" x2="346" y2="563.2" stroke="#999" stroke-width="0.6"/>
<circle cx="295.4" cy="522" r="3.25" fill="#fff" stroke="#0a0a0a" stroke-width="1.5"/>
<line x1="293.8" y1="522" x2="297" y2="522" stroke="#555" stroke-width="0.5"/>
<line x1="295.4" y1="520.4" x2="295.4" y2="523.6" stroke="#555" stroke-width="0.5"/>
<circle cx="336.7" cy="522" r="5.85" fill="#fff" stroke="#0a0a0a" stroke-width="1.65"/>
<path d="M335.7,518.7 L337.7,518.7 L337.7,521 L340,521 L340,523 L337.7,523 L337.7,525.3 L335.7,525.3 L335.7,523 L333.4,523 L333.4,521 L335.7,521 Z" fill="#ddd" stroke="#111" stroke-width="0.9" transform="rotate(-12 336.7 522)"/>
<circle cx="295.4" cy="563.2" r="5.85" fill="#fff" stroke="#0a0a0a" stroke-width="1.65"/>
<path d="M294.4,559.9 L296.4,559.9 L296.4,562.2 L298.7,562.2 L298.7,564.2 L296.4,564.2 L296.4,566.5 L294.4,566.5 L294.4,564.2 L292.1,564.2 L292.1,562.2 L294.4,562.2 Z" fill="#ddd" stroke="#111" stroke-width="0.9" transform="rotate(20 295.4 563.2)"/>
<circle cx="336.7" cy="563.2" r="3.25" fill="#fff" stroke="#0a0a0a" stroke-width="1.5"/>
<line x1="335.1" y1="563.2" x2="338.3" y2="563.2" stroke="#555" stroke-width="0.5"/>
<line x1="336.7" y1="561.6" x2="336.7" y2="564.8" stroke="#555" stroke-width="0.5"/>
<path d="M310,535.6 L324.8,535.6 L324.8,550" fill="none" stroke="#444" stroke-width="0.9" />
<path d="M300.9,535.6 L310,534.2 L310,537 Z" fill="#fff" stroke="#222" stroke-width="0.6" />
<path d="M324.8,558.9 L323.4,549.8 L326.2,549.8 Z" fill="#fff" stroke="#222" stroke-width="0.6" />
<text x="306" y="543.3" font-size="8" text-anchor="middle" fill="#111" >x</text>
<text x="320" y="556.8" font-size="6.6" text-anchor="middle" fill="#111" >Y</text>
<circle cx="280.4" cy="445" r="4.5" fill="#fff" stroke="#0a0a0a" stroke-width="1"/>
<path d="M279.7,442.3 L281.1,442.3 L281.1,444.3 L283.1,444.3 L283.1,445.7 L281.1,445.7 L281.1,447.7 L279.7,447.7 L279.7,445.7 L277.7,445.7 L277.7,444.3 L279.7,444.3 Z" fill="#ddd" stroke="#111" stroke-width="0.6" />
<circle cx="413.4" cy="444.8" r="4.5" fill="#fff" stroke="#0a0a0a" stroke-width="1"/>
<path d="M412.7,442.1 L414.1,442.1 L414.1,444.1 L416.1,444.1 L416.1,445.5 L414.1,445.5 L414.1,447.5 L412.7,447.5 L412.7,445.5 L410.7,445.5 L410.7,444.1 L412.7,444.1 Z" fill="#ddd" stroke="#111" stroke-width="0.6" />
<circle cx="413.4" cy="578.4" r="4.5" fill="#fff" stroke="#0a0a0a" stroke-width="1"/>
<path d="M412.7,575.7 L414.1,575.7 L414.1,577.7 L416.1,577.7 L416.1,579.1 L414.1,579.1 L414.1,581.1 L412.7,581.1 L412.7,579.1 L410.7,579.1 L410.7,577.7 L412.7,577.7 Z" fill="#ddd" stroke="#111" stroke-width="0.6" />
<circle cx="366.6" cy="452.4" r="12.2" fill="#fff" stroke="#0a0a0a" stroke-width="1.5"/>
<circle cx="366.6" cy="452.4" r="5.9" fill="none" stroke="#111" stroke-width="1"/>
<line x1="363.2" y1="452.4" x2="370" y2="452.4" stroke="#444" stroke-width="0.6"/>
<line x1="366.6" y1="449" x2="366.6" y2="455.8" stroke="#444" stroke-width="0.6"/>
<line x1="381.1" y1="452.4" x2="383.6" y2="452.4" stroke="#777" stroke-width="0.6"/>
<line x1="352.1" y1="452.4" x2="349.6" y2="452.4" stroke="#777" stroke-width="0.6"/>
<line x1="366.6" y1="466.9" x2="366.6" y2="469.4" stroke="#777" stroke-width="0.6"/>
<line x1="366.6" y1="437.9" x2="366.6" y2="435.4" stroke="#777" stroke-width="0.6"/>
<circle cx="405.8" cy="540.4" r="12.2" fill="#fff" stroke="#0a0a0a" stroke-width="1.5"/>
<circle cx="405.8" cy="540.4" r="5.9" fill="none" stroke="#111" stroke-width="1"/>
<line x1="402.4" y1="540.4" x2="409.2" y2="540.4" stroke="#444" stroke-width="0.6"/>
<line x1="405.8" y1="537" x2="405.8" y2="543.8" stroke="#444" stroke-width="0.6"/>
<line x1="420.3" y1="540.4" x2="422.8" y2="540.4" stroke="#777" stroke-width="0.6"/>
<line x1="391.3" y1="540.4" x2="388.8" y2="540.4" stroke="#777" stroke-width="0.6"/>
<line x1="405.8" y1="554.9" x2="405.8" y2="557.4" stroke="#777" stroke-width="0.6"/>
<line x1="405.8" y1="525.9" x2="405.8" y2="523.4" stroke="#777" stroke-width="0.6"/>
<line x1="366.6" y1="416" x2="366.6" y2="448" stroke="#3a3a3a" stroke-width="0.7"/>
<line x1="405.8" y1="416" x2="405.8" y2="536" stroke="#3a3a3a" stroke-width="0.7"/>
<line x1="421" y1="416" x2="421" y2="437.8" stroke="#3a3a3a" stroke-width="0.7"/>
<line x1="366.6" y1="418.2" x2="405.8" y2="418.2" stroke="#3a3a3a" stroke-width="0.7"/>
<polygon points="366.6,418.2 371.2,417.25 371.2,419.15" fill="#1c1c1c"/>
<polygon points="405.8,418.2 401.2,419.15 401.2,417.25" fill="#1c1c1c"/>
<text x="384.4" y="416.2" font-size="9.2" text-anchor="middle" fill="#111" >10,5</text>
<line x1="405.8" y1="418.2" x2="431" y2="418.2" stroke="#3a3a3a" stroke-width="0.7"/>
<polygon points="405.8,418.2 401.2,419.15 401.2,417.25" fill="#1c1c1c"/>
<polygon points="421,418.2 425.6,417.25 425.6,419.15" fill="#1c1c1c"/>
<text x="413.4" y="416.2" font-size="9.2" text-anchor="middle" fill="#111" >4</text>
<line x1="421" y1="437.8" x2="534.5" y2="437.8" stroke="#3a3a3a" stroke-width="0.7"/>
<line x1="370" y1="452.4" x2="534.5" y2="452.4" stroke="#3a3a3a" stroke-width="0.7"/>
<line x1="409" y1="540.4" x2="534.5" y2="540.4" stroke="#3a3a3a" stroke-width="0.7"/>
<line x1="532.4" y1="432" x2="532.4" y2="540.4" stroke="#3a3a3a" stroke-width="0.7"/>
<polygon points="532.4,437.8 531.45,433.2 533.35,433.2" fill="#1c1c1c"/>
<polygon points="532.4,452.4 533.35,457 531.45,457" fill="#1c1c1c"/>
<polygon points="532.4,540.4 531.45,535.8 533.35,535.8" fill="#1c1c1c"/>
<text x="529.6" y="444.8" font-size="9.2" text-anchor="middle" fill="#111" transform="rotate(-90 529.6 444.8)" >4</text>
<text x="529.8" y="499.4" font-size="9.2" text-anchor="middle" fill="#111" transform="rotate(-90 529.8 499.4)" >23,5</text>
<line x1="223.2" y1="437.8" x2="223.2" y2="587.6" stroke="#3a3a3a" stroke-width="0.7"/>
<polygon points="223.2,437.8 224.15,442.4 222.25,442.4" fill="#1c1c1c"/>
<polygon points="223.2,587.6 222.25,583 224.15,583" fill="#1c1c1c"/>
<text x="222.2" y="515.5" font-size="9.2" text-anchor="middle" fill="#111" transform="rotate(-90 222.2 515.5)" >40</text>
<line x1="241.7" y1="499.7" x2="241.7" y2="587.6" stroke="#3a3a3a" stroke-width="0.7"/>
<polygon points="241.7,499.7 242.65,504.3 240.75,504.3" fill="#1c1c1c"/>
<polygon points="241.7,587.6 240.75,583 242.65,583" fill="#1c1c1c"/>
<text x="240.6" y="544.6" font-size="9.2" text-anchor="middle" fill="#111" transform="rotate(-90 240.6 544.6)" >23,5</text>
<line x1="256.4" y1="521.8" x2="256.4" y2="587.6" stroke="#3a3a3a" stroke-width="0.7"/>
<polygon points="256.4,521.8 257.35,526.4 255.45,526.4" fill="#1c1c1c"/>
<polygon points="256.4,563.1 255.45,558.5 257.35,558.5" fill="#1c1c1c"/>
<polygon points="256.4,563.1 257.35,567.7 255.45,567.7" fill="#1c1c1c"/>
<polygon points="256.4,587.6 255.45,583 257.35,583" fill="#1c1c1c"/>
<text x="254.4" y="541.4" font-size="9.2" text-anchor="middle" fill="#111" transform="rotate(-90 254.4 541.4)" >11</text>
<text x="254.4" y="575.8" font-size="9.2" text-anchor="middle" fill="#111" transform="rotate(-90 254.4 575.8)" >6,5</text>
<line x1="271.3" y1="608" x2="295.6" y2="608" stroke="#3a3a3a" stroke-width="0.7"/>
<polygon points="271.3,608 275.9,607.05 275.9,608.95" fill="#1c1c1c"/>
<polygon points="295.6,608 291,608.95 291,607.05" fill="#1c1c1c"/>
<text x="282.8" y="605.8" font-size="9.2" text-anchor="middle" fill="#111" >6,5</text>
<line x1="295.6" y1="608" x2="336.7" y2="608" stroke="#3a3a3a" stroke-width="0.7"/>
<polygon points="295.6,608 300.2,607.05 300.2,608.95" fill="#1c1c1c"/>
<polygon points="336.7,608 332.1,608.95 332.1,607.05" fill="#1c1c1c"/>
<text x="314.4" y="605.8" font-size="9.2" text-anchor="middle" fill="#111" >11</text>
<line x1="356.2" y1="587.6" x2="356.2" y2="628" stroke="#3a3a3a" stroke-width="0.7"/>
<line x1="271.3" y1="625.6" x2="356.2" y2="625.6" stroke="#3a3a3a" stroke-width="0.7"/>
<polygon points="271.3,625.6 275.9,624.65 275.9,626.55" fill="#1c1c1c"/>
<polygon points="356.2,625.6 351.6,626.55 351.6,624.65" fill="#1c1c1c"/>
<text x="311" y="623.4" font-size="9.2" text-anchor="middle" fill="#111" >22,5</text>
<line x1="421" y1="586" x2="421" y2="645" stroke="#3a3a3a" stroke-width="0.7"/>
<line x1="271.3" y1="643.2" x2="421" y2="643.2" stroke="#3a3a3a" stroke-width="0.7"/>
<polygon points="271.3,643.2 275.9,642.25 275.9,644.15" fill="#1c1c1c"/>
<polygon points="421,643.2 416.4,644.15 416.4,642.25" fill="#1c1c1c"/>
<text x="343" y="641" font-size="9.2" text-anchor="middle" fill="#111" >40</text>
<path d="M421,461.7 L451.4,461.7 Q452.9,461.7 452.9,463.3 L452.9,497.9 Q452.9,499.5 451.4,499.5 L421,499.5" fill="none" stroke="#1c1c1c" stroke-width="1" />
<path d="M423.4,462.3 Q421.8,463.1 421.8,466.2 L421.8,495 Q421.8,498.1 423.4,498.9" fill="none" stroke="#1c1c1c" stroke-width="0.9" />
<rect x="453.2" y="465.1" width="3.6" height="31" fill="#c8c8c8"/>
<line x1="454.4" y1="465" x2="454.4" y2="496" stroke="#555" stroke-width="0.9"/>
<line x1="453.2" y1="465" x2="456.8" y2="465" stroke="#333" stroke-width="0.7"/>
<line x1="453.2" y1="496" x2="456.8" y2="496" stroke="#333" stroke-width="0.7"/>
<path d="M456.8,462.7 L470,462.7 L480.3,468 L480.3,494.1 L470,498.7 L456.8,498.7 Z" fill="none" stroke="#1c1c1c" stroke-width="1" />
<line x1="456.8" y1="464.3" x2="469.6" y2="464.3" stroke="#555" stroke-width="0.6"/>
<line x1="469.6" y1="462.7" x2="469.6" y2="491.6" stroke="#222" stroke-width="0.8"/>
<path d="M456.8,491.6 L469.8,491.6 L475.6,495 L469.8,498 L456.8,498" fill="none" stroke="#222" stroke-width="0.8" />
<rect x="480.3" y="470.9" width="34.5" height="19.3" rx="0" fill="none" stroke="#1c1c1c" stroke-width="1"/>
<path d="M422.4,475.2 L431,475.2 Q432.6,475.2 432.6,476.8 L432.6,490 Q432.6,491.6 431,491.6 L422.4,491.6" fill="none" stroke="#1c1c1c" stroke-width="0.9" />
<line x1="416" y1="480.6" x2="519" y2="480.6" stroke="#3a3a3a" stroke-width="0.7" stroke-dasharray="14 2.5 2.5 2.5"/>
</g>
</svg></body></html>
